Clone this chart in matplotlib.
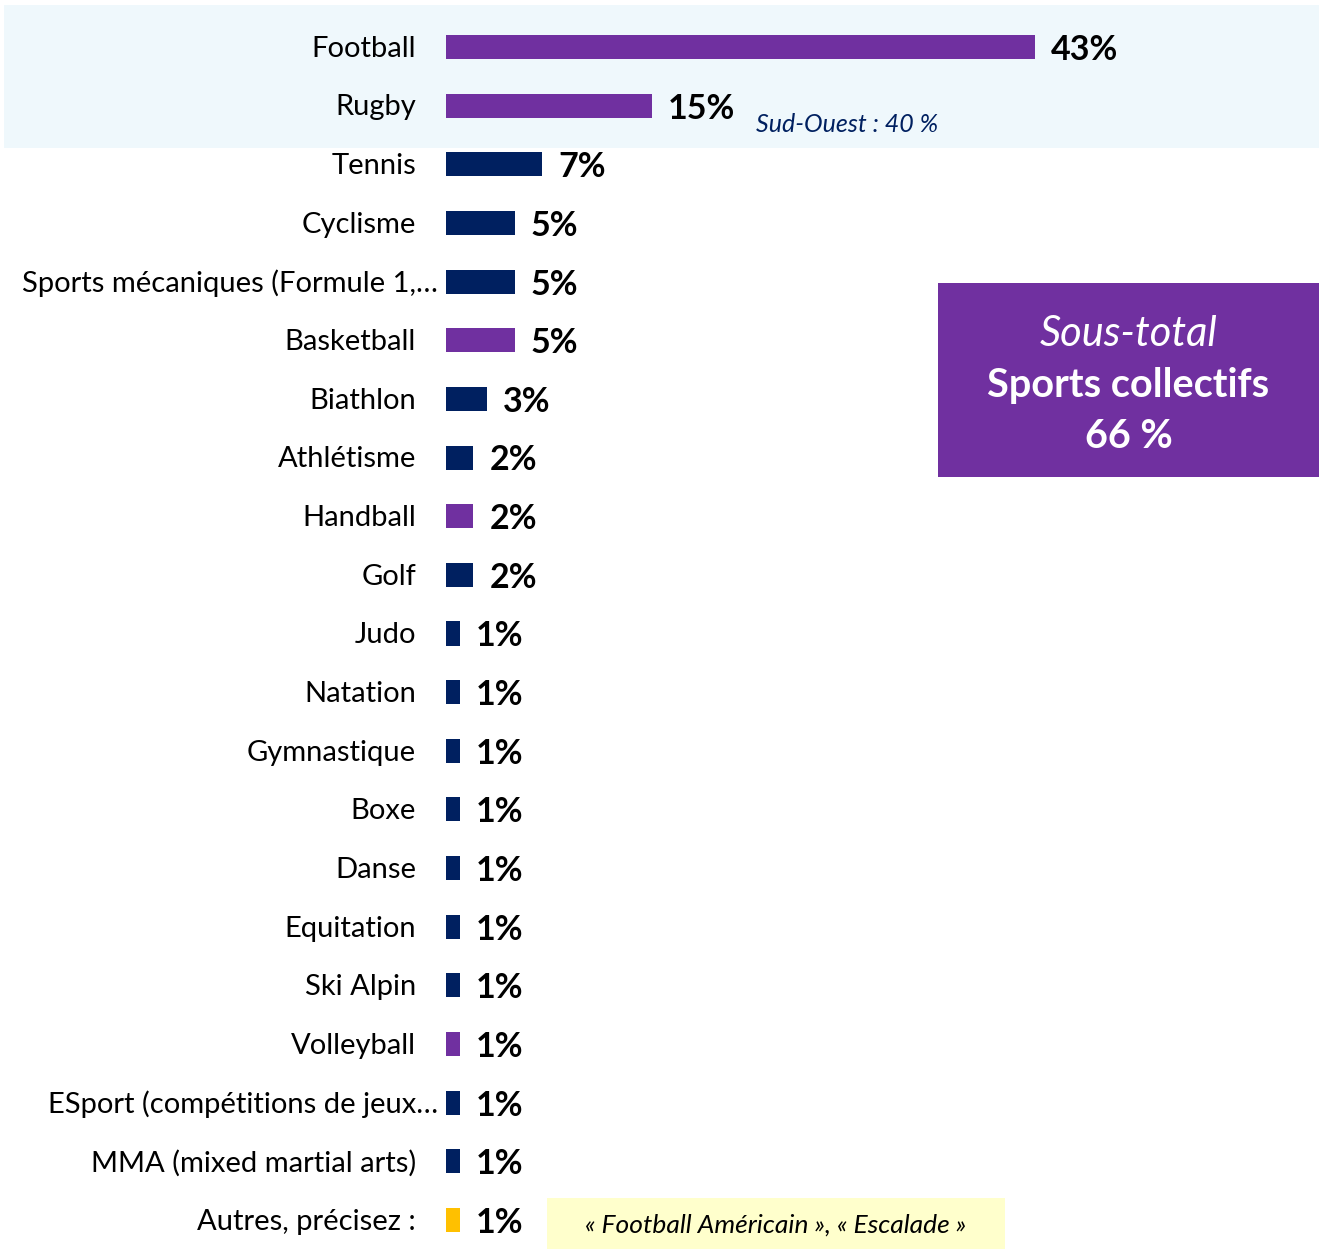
import matplotlib
matplotlib.use("Agg")
import matplotlib.pyplot as plt
from matplotlib.patches import Rectangle

categories = ["Football", "Rugby", "Tennis", "Cyclisme", "Sports mécaniques (Formule 1,…",
              "Basketball", "Biathlon", "Athlétisme", "Handball", "Golf", "Judo", "Natation",
              "Gymnastique", "Boxe", "Danse", "Equitation", "Ski Alpin", "Volleyball",
              "ESport (compétitions de jeux…", "MMA (mixed martial arts)", "Autres, précisez :"]
values = [43, 15, 7, 5, 5, 5, 3, 2, 2, 2, 1, 1, 1, 1, 1, 1, 1, 1, 1, 1, 1]
groups = ["col", "col", "ind", "ind", "ind", "col", "ind", "ind", "col", "ind", "ind", "ind",
          "ind", "ind", "ind", "ind", "ind", "col", "ind", "ind", "oth"]
group_colors = {"col": "#7030A0", "ind": "#002060", "oth": "#FFC000"}

FONT = "Lato"
W, H = 1319, 1249
fig = plt.figure(figsize=(W / 100, H / 100), dpi=100)

# background band behind top rows
fig.patches.append(Rectangle((4 / W, 1 - 148 / H), (W - 4) / W, 143 / H,
                             transform=fig.transFigure, facecolor="#EFF8FC", edgecolor="none", zorder=0))

x0 = 446
ax = fig.add_axes([x0 / W, 0, (W - x0) / W, 1])
ax.set_zorder(2)
ax.patch.set_alpha(0)
px_per = 13.7
ax.set_xlim(0, (W - x0) / px_per)
step = 58.65
ax.set_ylim(20 + (H - 1220) / step, -47 / step)
for s in ax.spines.values():
    s.set_visible(False)
ax.set_xticks([])
ax.set_yticks([])

ys = list(range(len(categories)))
cols = [group_colors[g] for g in groups]
ax.barh(ys, values, height=0.41, color=cols, zorder=2)
for y, v, c in zip(ys, values, categories):
    gap = 8 if c.endswith("…") else 30
    ax.text(-gap / px_per, y + 0.03, c, ha="right", va="center", fontsize=21, family=FONT, color="black")
    ax.text(v + 16 / px_per, y + 0.05, f"{v}%", ha="left", va="center", fontsize=24.5,
            family=FONT, fontweight="bold", color="black")

# Sud-Ouest annotation
fig.text(756 / W, 1 - 125 / H, "Sud-Ouest : 40 %", ha="left", va="center", fontsize=18,
         family=FONT, style="italic", color="#002060", zorder=3)

# purple sub-total box
fig.patches.append(Rectangle((938 / W, 1 - 477 / H), (W - 938) / W, 194 / H,
                             transform=fig.transFigure, facecolor="#7030A0", edgecolor="none", zorder=1))
cx = (938 + W) / 2 / W
fig.text(cx, 1 - 334 / H, "Sous-total", ha="center", va="center", fontsize=30, family=FONT,
         style="italic", color="white", zorder=3)
fig.text(cx, 1 - 385 / H, "Sports collectifs", ha="center", va="center", fontsize=28.5, family=FONT,
         fontweight="bold", color="white", zorder=3)
fig.text(cx, 1 - 436 / H, "66 %", ha="center", va="center", fontsize=28.5, family=FONT,
         fontweight="bold", color="white", zorder=3)

# yellow note box
fig.patches.append(Rectangle((547 / W, 1 - 1250 / H), (1005 - 547) / W, 52 / H,
                             transform=fig.transFigure, facecolor="#FFFFCC", edgecolor="none", zorder=1))
fig.text((547 + 1005) / 2 / W, 1 - 1225 / H, "« Football Américain », « Escalade »", ha="center",
         va="center", fontsize=19, family=FONT, style="italic", color="black", zorder=3)

fig.savefig("out.png", dpi=100)
